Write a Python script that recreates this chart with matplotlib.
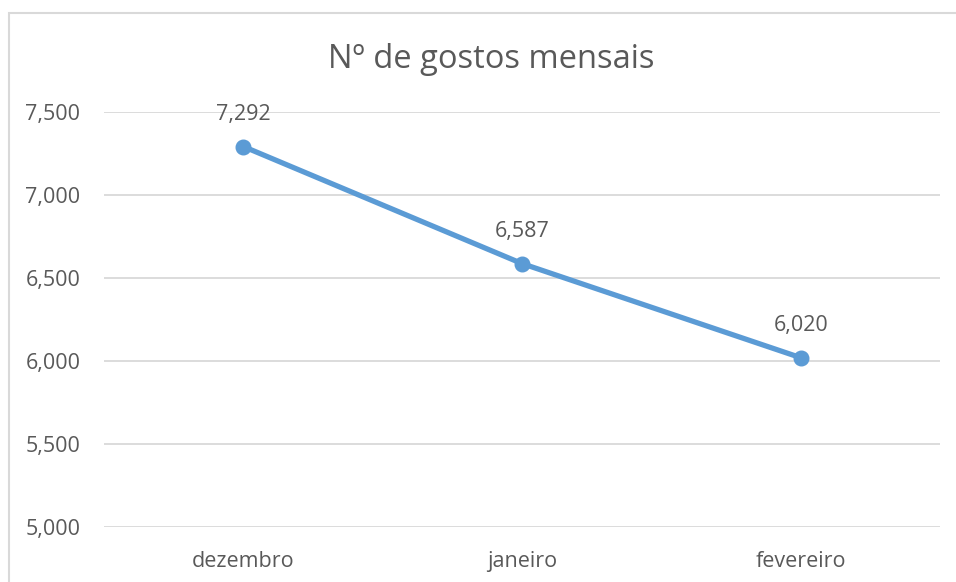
import matplotlib.pyplot as plt
from matplotlib.patches import Rectangle
from matplotlib.ticker import FuncFormatter

months = ['dezembro', 'janeiro', 'fevereiro']
likes = [7292, 6587, 6020]
yticks = [5000, 5500, 6000, 6500, 7000, 7500]

plt.rcParams['font.family'] = ['Open Sans', 'DejaVu Sans']
text_col = '#595959'
grid_col = '#D9D9D9'
blue = '#5B9BD5'

fig = plt.figure(figsize=(9.56, 5.82), dpi=100)
W, H = 956, 582
ax = fig.add_axes([104 / W, 1 - 527 / H, (940 - 104) / W, (527 - 112) / H])

# chart frame (right and bottom edges run off the image)
fig.patches.append(Rectangle((9 / W, -0.05), 1.1, 1 - 13 / H + 0.05,
                             transform=fig.transFigure, fill=False,
                             edgecolor=grid_col, linewidth=1.5))

x = range(len(months))
ax.plot(x, likes, color=blue, linewidth=3.8, marker='o', markersize=10.5,
        solid_capstyle='round', zorder=3)
for xi, v in zip(x, likes):
    ax.annotate(f'{v:,}', (xi, v), xytext=(0, 23), textcoords='offset points',
                ha='center', va='center', fontsize=15.5, color=text_col)

ax.set_xlim(-0.5, 2.5)
ax.set_ylim(5000, 7500)
ax.set_yticks(yticks)
ax.yaxis.set_major_formatter(FuncFormatter(lambda v, p: f'{int(v):,}'))
ax.set_xticks(list(x))
ax.set_xticklabels(months)
ax.grid(axis='y', color=grid_col, linewidth=1.3)
ax.set_axisbelow(True)
for s in ax.spines.values():
    s.set_visible(False)
ax.tick_params(axis='both', length=0, labelsize=15.5, colors=text_col)
ax.tick_params(axis='y', pad=17)
ax.tick_params(axis='x', pad=17)

fig.text(491 / W, 1 - 60 / H, 'Nº de gostos mensais', ha='center', va='center',
         fontsize=23.5, color=text_col)

fig.savefig('out.png', dpi=100)
